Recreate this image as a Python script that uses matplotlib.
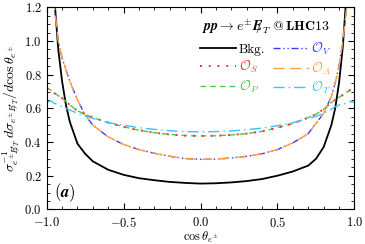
import numpy as np
import matplotlib
matplotlib.use("Agg")
import matplotlib.pyplot as plt
from matplotlib.ticker import MultipleLocator

plt.rcParams['font.family'] = 'serif'
plt.rcParams['font.serif'] = ['cmr10', 'DejaVu Serif']
plt.rcParams['mathtext.fontset'] = 'cm'
plt.rcParams['axes.formatter.use_mathtext'] = True
plt.rcParams['font.size'] = 9

# cos(theta) grid and normalised distributions
cos_theta = [-1.0, -0.975, -0.95, -0.925, -0.9, -0.875, -0.85, -0.8, -0.75, -0.7,
             -0.6, -0.5, -0.4, -0.3, -0.2, -0.1, 0.0, 0.1, 0.2, 0.3, 0.4, 0.5,
             0.6, 0.7, 0.75, 0.8, 0.85, 0.875, 0.9, 0.925, 0.95, 0.975, 1.0]

bkg = [3.0, 2.0, 1.25, 0.95, 0.76, 0.62, 0.52, 0.39, 0.33, 0.285,
       0.235, 0.205, 0.185, 0.173, 0.163, 0.157, 0.153, 0.155, 0.16, 0.168, 0.18, 0.2,
       0.225, 0.26, 0.30, 0.37, 0.50, 0.60, 0.75, 0.97, 1.3, 2.0, 3.0]

op_a = [1.6, 1.4, 1.2, 1.0, 0.9, 0.83, 0.76, 0.65, 0.56, 0.5,
        0.43, 0.385, 0.355, 0.333, 0.315, 0.302, 0.297, 0.298, 0.305, 0.315, 0.33, 0.355,
        0.395, 0.45, 0.51, 0.57, 0.67, 0.75, 0.85, 1.0, 1.2, 1.4, 1.6]
op_v = op_a

op_p = [0.72, 0.71, 0.69, 0.675, 0.66, 0.64, 0.62, 0.585, 0.565, 0.545,
        0.515, 0.49, 0.47, 0.455, 0.445, 0.438, 0.436, 0.437, 0.442, 0.45, 0.463, 0.485,
        0.51, 0.545, 0.565, 0.595, 0.635, 0.65, 0.665, 0.68, 0.695, 0.71, 0.72]
op_s = op_p

op_t = [0.635, 0.645, 0.63, 0.62, 0.61, 0.60, 0.59, 0.57, 0.555, 0.54,
        0.515, 0.50, 0.485, 0.475, 0.467, 0.462, 0.46, 0.462, 0.466, 0.473, 0.483, 0.497,
        0.515, 0.54, 0.552, 0.57, 0.595, 0.61, 0.62, 0.625, 0.63, 0.64, 0.635]

fig = plt.figure(figsize=(3.65, 2.44), dpi=100)
ax = fig.add_axes([0.128, 0.142, 0.843, 0.828])

ax.plot(cos_theta, bkg, color='black', lw=1.3, label='Bkg.')
ax.plot(cos_theta, op_v, color='#3a3aff', lw=1.0, ls=(0, (5, 2, 1, 2, 1, 2)), label=r'$\mathcal{O}_V$')
ax.plot(cos_theta, op_a, color='#ffa040', lw=1.0, ls=(0, (8, 4)), label=r'$\mathcal{O}_A$')
ax.plot(cos_theta, op_p, color='#44cc44', lw=1.0, ls=(0, (4, 3)), label=r'$\mathcal{O}_P$')
ax.plot(cos_theta, op_s, color='#ff3333', lw=1.4, ls=(0, (1, 3.5)), label=r'$\mathcal{O}_S$')
ax.plot(cos_theta, op_t, color='#40c0ff', lw=1.0, ls=(0, (8, 3, 1, 3)), label=r'$\mathcal{O}_T$')

ax.set_xlim(-1, 1)
ax.set_ylim(0, 1.2)
ax.xaxis.set_major_locator(MultipleLocator(0.5))
ax.xaxis.set_minor_locator(MultipleLocator(0.1))
ax.yaxis.set_major_locator(MultipleLocator(0.2))
ax.yaxis.set_minor_locator(MultipleLocator(0.05))
ax.tick_params(which='both', direction='in', top=True, right=True, labelsize=9)
ax.tick_params(which='major', length=4)
ax.tick_params(which='minor', length=2)
ax.tick_params(axis='x', which='major', pad=5)
for s in ax.spines.values():
    s.set_linewidth(0.8)

ax.set_xlabel(r'$\cos\theta_{e^{\pm}}$', fontsize=9, labelpad=0)
ax.set_ylabel(r'$\sigma^{-1}_{e^{\pm}E\!\!\!/_T}\,d\sigma_{e^{\pm}E\!\!\!/_T}/d\cos\theta_{e^{\pm}}$',
              fontsize=10, labelpad=1)

h, l = ax.get_legend_handles_labels()
order = [0, 4, 3, 1, 2, 5]
leg = ax.legend([h[i] for i in order], [l[i] for i in order], ncol=2, loc='upper right',
                bbox_to_anchor=(0.925, 0.945), frameon=False, fontsize=9.5,
                handlelength=2.7, columnspacing=0.6, handletextpad=0.2,
                labelspacing=0.25, borderaxespad=0, borderpad=0,
                title=r'$\boldsymbol{pp\to e^{\pm}E\!\!\!/_T}\ \mathbf{@\,LHC13}$',
                title_fontsize=10)
for t, i in zip(leg.get_texts(), order):
    t.set_color(h[i].get_color())

ax.text(0.025, 0.06, r'$\boldsymbol{(a)}$', transform=ax.transAxes, fontsize=12)

fig.savefig('out.png', dpi=100)
